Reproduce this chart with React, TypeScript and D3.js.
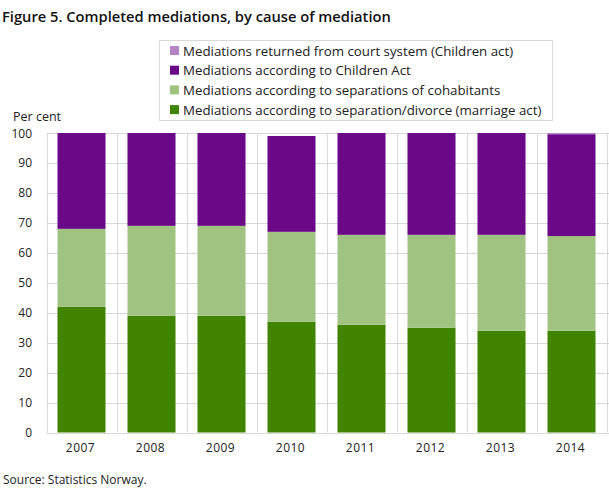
import * as d3 from "d3";
import { useEffect, useRef } from "react";

const years = ["2007", "2008", "2009", "2010", "2011", "2012", "2013", "2014"];

// share of completed mediations, per cent
const marriageAct = [42, 39, 39, 37, 36, 35, 34, 34];
const cohabitants = [26, 30, 30, 30, 30, 31, 32, 31.6];
const childrenAct = [32, 31, 31, 32, 34, 34, 34, 34];
const returnedCourt = [0, 0, 0, 0, 0, 0, 0, 0.4];

const yTicks = [0, 10, 20, 30, 40, 50, 60, 70, 80, 90, 100];

const seriesNames = [
  "Mediations according to separation/divorce (marriage act)",
  "Mediations according to separations of cohabitants",
  "Mediations according to Children Act",
  "Mediations returned from court system (Children act)",
];
const seriesColors = ["#408400", "#a0c382", "#6a0888", "#b584c4"];

export default function App() {
  const containerRef = useRef<HTMLDivElement>(null);

  useEffect(() => {
    if (!containerRef.current) return;
    const container = containerRef.current;
    container.innerHTML = "";

    const width = 609;
    const height = 489;
    const font = "'Open Sans', sans-serif";

    const svg = d3
      .select(container)
      .append("svg")
      .attr("width", width)
      .attr("height", height)
      .style("display", "block");

    const x = d3
      .scaleBand()
      .domain(years)
      .range([46.5, 606.5])
      .paddingInner(0.314)
      .paddingOuter(0.157);

    const y = d3.scaleLinear().domain([0, 100]).range([432.5, 133]);

    // gridlines
    const grid = svg.append("g").attr("stroke", "#d9d9d9").attr("stroke-width", 1);
    grid
      .selectAll("line.h")
      .data(yTicks)
      .enter()
      .append("line")
      .attr("x1", 46.5)
      .attr("x2", 609)
      .attr("y1", (d) => Math.round(y(d)) + 0.5)
      .attr("y2", (d) => Math.round(y(d)) + 0.5);

    const half = (x.step() - x.bandwidth()) / 2;
    const bounds = years.map((d) => x(d)! - half).concat([x(years[7])! + x.bandwidth() + half]);
    grid
      .selectAll("line.v")
      .data(bounds)
      .enter()
      .append("line")
      .attr("x1", (d) => Math.round(d) + 0.5)
      .attr("x2", (d) => Math.round(d) + 0.5)
      .attr("y1", y(100))
      .attr("y2", y(0));

    // stacked bars
    const rows = years.map((yr, i) => ({
      year: yr,
      s0: marriageAct[i],
      s1: cohabitants[i],
      s2: childrenAct[i],
      s3: returnedCourt[i],
    }));
    const stacked = d3.stack<any>().keys(["s0", "s1", "s2", "s3"])(rows);

    svg
      .append("g")
      .selectAll("g")
      .data(stacked)
      .enter()
      .append("g")
      .attr("fill", (_, i) => seriesColors[i])
      .selectAll("rect")
      .data((d) => d)
      .enter()
      .append("rect")
      .attr("x", (d) => x(d.data.year)!)
      .attr("width", x.bandwidth())
      .attr("y", (d) => y(d[1]))
      .attr("height", (d) => y(d[0]) - y(d[1]));

    // y axis labels
    svg
      .append("g")
      .selectAll("text")
      .data(yTicks)
      .enter()
      .append("text")
      .attr("x", 32)
      .attr("y", (d) => y(d) + 4.5)
      .attr("text-anchor", "end")
      .style("font-family", font)
      .style("font-size", "12px")
      .style("fill", "#222")
      .text((d) => d);

    // x axis labels
    svg
      .append("g")
      .selectAll("text")
      .data(years)
      .enter()
      .append("text")
      .attr("x", (d) => x(d)! + x.bandwidth() / 2 - 1)
      .attr("y", 452)
      .attr("text-anchor", "middle")
      .style("font-family", font)
      .style("font-size", "12px")
      .style("letter-spacing", "0.5px")
      .style("fill", "#222")
      .text((d) => d);

    svg
      .append("text")
      .attr("x", 13)
      .attr("y", 121)
      .style("font-family", font)
      .style("font-size", "12.5px")
      .style("fill", "#222")
      .text("Per cent");

    // title
    svg
      .append("text")
      .attr("x", 2)
      .attr("y", 22)
      .style("font-family", font)
      .style("font-size", "14.7px")
      .style("font-weight", 600)
      .style("fill", "#111")
      .text("Figure 5. Completed mediations, by cause of mediation");

    // legend (reverse order, top entry is the top of the stack)
    const legend = svg.append("g");
    legend
      .append("rect")
      .attr("x", 159.5)
      .attr("y", 40.5)
      .attr("width", 393)
      .attr("height", 80)
      .attr("fill", "#fff")
      .attr("stroke", "#d9d9d9");

    const legendItems = seriesNames.map((n, i) => ({ name: n, color: seriesColors[i] })).reverse();
    const item = legend
      .selectAll("g")
      .data(legendItems)
      .enter()
      .append("g")
      .attr("transform", (_, i) => `translate(170,${51 + i * 19.7})`);
    item
      .append("rect")
      .attr("x", 0)
      .attr("y", -5)
      .attr("width", 9)
      .attr("height", 9)
      .attr("fill", (d) => d.color);
    item
      .append("text")
      .attr("x", 13)
      .attr("y", 4.5)
      .style("font-family", font)
      .style("font-size", "13.3px")
      .style("fill", "#222")
      .text((d) => d.name);

    svg
      .append("text")
      .attr("x", 3)
      .attr("y", 484)
      .style("font-family", font)
      .style("font-size", "12px")
      .style("fill", "#222")
      .text("Source: Statistics Norway.");
  }, []);

  return <div ref={containerRef} style={{ position: "absolute", left: 0, top: 0 }} />;
}
